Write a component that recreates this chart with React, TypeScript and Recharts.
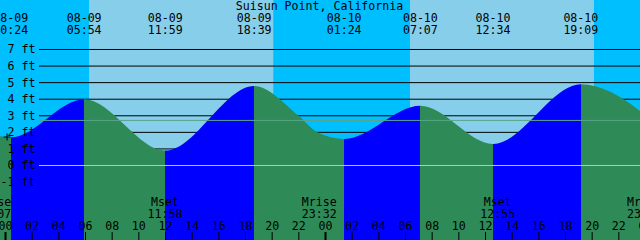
import {
  ComposedChart,
  Area,
  XAxis,
  YAxis,
  ReferenceArea,
  ReferenceLine,
  ReferenceDot,
} from "recharts";

const NIGHT = "#00bfff";
const DAY = "#87ceeb";
const FLOOD = "#0000ff";
const EBB = "#2e8b57";
const DATUM = "#8fd2ee";
const MSL = "#58a58c";
const FONT = "DejaVu Sans Mono";
const FONT_SIZE = 11.6;

// hours from 08-09 00:00
const DAY_OFFSET: Record<string, number> = {
  "08-08": -24,
  "08-09": 0,
  "08-10": 24,
  "08-11": 48,
};
const toHours = (date: string, clock: string) => {
  const [h, m] = clock.split(":").map(Number);
  return DAY_OFFSET[date] + h + m / 60;
};

// high / low tides (first and last are off the chart)
const tideDates = ["08-08", "08-09", "08-09", "08-09", "08-09", "08-10", "08-10", "08-10", "08-10", "08-11"];
const tideClock = ["17:50", "00:24", "05:54", "11:59", "18:39", "01:24", "07:07", "12:34", "19:09", "02:10"];
const tideFeet = [4.7, 1.7, 4.0, 0.9, 4.8, 1.6, 3.6, 1.3, 4.9, 1.5];

const readDates = ["08-09", "08-09"];
const readClock = ["21:59", "23:24"];
const readFeet = [3.0, 2.0];

const sunriseDates = ["08-09", "08-10"];
const sunriseClock = ["06:16", "06:20"];
const sunsetDates = ["08-09", "08-10"];
const sunsetClock = ["20:05", "20:08"];

const moonKind = ["Mrise", "Mset", "Mrise", "Mset", "Mrise"];
const moonDates = ["08-08", "08-09", "08-09", "08-10", "08-10"];
const moonClock = ["23:07", "11:58", "23:32", "12:55", "23:55"];

const hourTicks = [0, 2, 4, 6, 8, 10, 12, 14, 16, 18, 20, 22, 24, 26, 28, 30, 32, 34, 36, 38, 40, 42, 44, 46, 48];
const feetTicks = [-1, 0, 1, 2, 3, 4, 5, 6, 7];
const gridFeet = [-1, 1, 2, 3, 4, 5, 6, 7];
const datumFeet = 0;
const mslFeet = 2.72;
const markerDate = "08-09";
const markerClock = "00:07";
const markerFeet = 1.72;

// axis extents (16.57 px per foot, 13.33 px per hour)
const X_MIN = -0.4125;
const X_MAX = 47.5875;
const Y_MIN = -4.496;
const Y_MAX = 9.987;

const tideData = [
  ...tideDates.map((d, i) => ({ t: toHours(d, tideClock[i]), ft: tideFeet[i] })),
  ...readDates.map((d, i) => ({ t: toHours(d, readClock[i]), ft: readFeet[i] })),
].sort((a, b) => a.t - b.t);

const tFirst = tideData[0].t;
const tLast = tideData[tideData.length - 1].t;
const fillStops = tideData.slice(1).flatMap((p, i) => {
  const prev = tideData[i];
  const color = p.ft > prev.ft ? FLOOD : EBB;
  return [
    { offset: (prev.t - tFirst) / (tLast - tFirst), color },
    { offset: (p.t - tFirst) / (tLast - tFirst), color },
  ];
});

const textStyle = { fontFamily: FONT, fontSize: FONT_SIZE, fill: "#000" };

const hLine = (color: string) => (p: any) => (
  <line x1={39} y1={p.y1} x2={p.x2} y2={p.y2} stroke={color} strokeWidth={1} />
);

const twoRowLabel = (top: string, bottom: string, y1: number, y2: number) => (p: any) => {
  const x = p.viewBox?.x ?? 0;
  return (
    <g>
      <text x={x} y={y1} textAnchor="middle" {...textStyle}>{top}</text>
      <text x={x} y={y2} textAnchor="middle" {...textStyle}>{bottom}</text>
    </g>
  );
};

const HourTick = (p: any) => {
  const v = p.payload.value as number;
  const x = p.payload.coordinate ?? p.x;
  return (
    <g>
      <text x={x} y={229.5} textAnchor="middle" {...textStyle}>
        {String(v % 24).padStart(2, "0")}
      </text>
      <line x1={x} x2={x} y1={232} y2={240} stroke="#000" strokeWidth={v % 24 === 0 ? 2 : 1} />
    </g>
  );
};

const FeetTick = (p: any) => {
  const y = p.payload.coordinate ?? p.y;
  return (
    <text x={35.5} y={y + 4} textAnchor="end" {...textStyle}>
      {`${p.payload.value} ft`}
    </text>
  );
};

export default function App() {
  return (
    <div
      style={{
        position: "fixed",
        left: 0,
        top: 0,
        width: 640,
        height: 240,
        overflow: "hidden",
        background: NIGHT,
      }}
    >
      <ComposedChart
        width={640}
        height={240}
        data={tideData}
        margin={{ top: 0, right: 0, bottom: 0, left: 0 }}
      >
        <defs>
          <linearGradient id="tideFill" x1="0" y1="0" x2="1" y2="0">
            {fillStops.map((s, i) => (
              <stop key={i} offset={s.offset} stopColor={s.color} />
            ))}
          </linearGradient>
        </defs>

        {sunriseDates.map((d, i) => (
          <ReferenceArea
            key={`day${i}`}
            x1={toHours(d, sunriseClock[i])}
            x2={toHours(sunsetDates[i], sunsetClock[i])}
            fill={DAY}
            fillOpacity={1}
            stroke="none"
            ifOverflow="hidden"
            zIndex={-300}
          />
        ))}

        {gridFeet.map((v) => (
          <ReferenceLine key={`g${v}`} y={v} shape={hLine("#000")} zIndex={-200} />
        ))}

        <Area
          type="monotone"
          dataKey="ft"
          stroke="none"
          fill="url(#tideFill)"
          fillOpacity={1}
          baseValue={Y_MIN}
          dot={false}
          activeDot={false}
          isAnimationActive={false}
        />

        <ReferenceLine y={datumFeet} shape={hLine(DATUM)} zIndex={450} />
        <ReferenceLine y={mslFeet} shape={hLine(MSL)} zIndex={450} />

        <ReferenceDot
          x={toHours(markerDate, markerClock)}
          y={markerFeet}
          r={0}
          zIndex={460}
          shape={(p: any) => (
            <g stroke="#000" strokeWidth={1}>
              <line x1={p.cx - 3.5} x2={p.cx + 3.5} y1={p.cy} y2={p.cy} />
              <line x1={p.cx} x2={p.cx} y1={p.cy - 3.5} y2={p.cy + 3.5} />
            </g>
          )}
        />

        {tideDates.map((d, i) => (
          <ReferenceLine
            key={`tide${i}`}
            x={toHours(d, tideClock[i])}
            stroke="none"
            ifOverflow="discard"
            zIndex={2100}
            label={{ content: twoRowLabel(d, tideClock[i], 21.5, 34) }}
          />
        ))}

        {moonDates.map((d, i) => (
          <ReferenceLine
            key={`moon${i}`}
            x={toHours(d, moonClock[i])}
            stroke="none"
            ifOverflow="visible"
            zIndex={2100}
            label={{ content: twoRowLabel(moonKind[i], moonClock[i], 206, 218) }}
          />
        ))}

        <XAxis
          type="number"
          dataKey="t"
          domain={[X_MIN, X_MAX]}
          allowDataOverflow
          ticks={hourTicks}
          interval={0}
          mirror
          axisLine={false}
          tickLine={false}
          tick={HourTick}
        />
        <YAxis
          type="number"
          domain={[Y_MIN, Y_MAX]}
          allowDataOverflow
          ticks={feetTicks}
          interval={0}
          mirror
          axisLine={false}
          tickLine={false}
          tick={FeetTick}
        />
      </ComposedChart>
      <svg
        width={640}
        height={14}
        style={{ position: "absolute", left: 0, top: 0 }}
      >
        <text x={319.5} y={9.5} textAnchor="middle" {...textStyle}>
          Suisun Point, California
        </text>
      </svg>
    </div>
  );
}
